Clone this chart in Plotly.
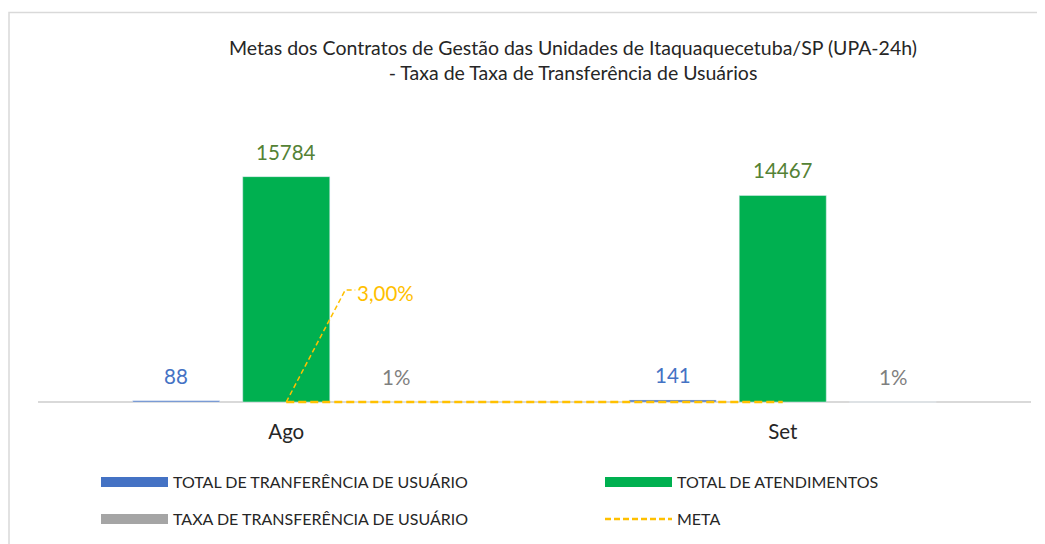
import plotly.graph_objects as go

# data
meses = ["Ago", "Set"]
total_transferencia = [88, 141]
total_atendimentos = [15784, 14467]
taxa_transferencia = [0.0056, 0.0097]
meta = [0.03, 0.03]

COLORS = {
    'blue': '#4472C4',
    'green': '#00B050',
    'gray': '#A5A5A5',
    'meta': '#FFC000',
    'text': '#262626',
}
FONT = 'Lato, Carlito, Calibri, sans-serif'
BARGAP = 0.335
BARGROUPGAP = 0.209
OFF = 8  # page body margin shifts the figure by 8px
Y_MAX = 18000
Y_PAD = 210  # a little room under zero so the META line is not clipped
PAD_PX = 3

series = [
    (total_transferencia, COLORS['blue'], '#4472C4', [f"{v}" for v in total_transferencia]),
    (total_atendimentos, COLORS['green'], '#548235', [f"{v}" for v in total_atendimentos]),
    (taxa_transferencia, COLORS['gray'], '#7F7F7F', [f"{v:.0%}" for v in taxa_transferencia]),
]

fig = go.Figure()

slot = (1 - BARGAP) / len(series)
for k, (vals, color, label_color, labels) in enumerate(series):
    fig.add_trace(go.Bar(
        x=meses, y=vals,
        marker_color=color,
        showlegend=False,
        hoverinfo='x+y',
    ))
    # data labels above the bars
    for i, (v, lab) in enumerate(zip(vals, labels)):
        fig.add_annotation(
            x=i + (k - 1) * slot, y=v, text=lab,
            showarrow=False, yanchor='bottom', yshift=11,
            font=dict(size=20.5, color=label_color),
        )

fig.add_trace(go.Scatter(
    x=meses, y=meta,
    mode='lines',
    line=dict(color=COLORS['meta'], width=2.5, dash='8px,4px'),
    cliponaxis=False,
    showlegend=False,
))

# legend-only entries (wide rectangles like the original), 2x2 grid
legend_items = [
    ("TOTAL DE TRANFERÊNCIA DE USUÁRIO", COLORS['blue'], 'solid', 10),
    ("TOTAL DE ATENDIMENTOS", COLORS['green'], 'solid', 10),
    ("TAXA DE TRANSFERÊNCIA DE USUÁRIO", COLORS['gray'], 'solid', 10),
    ("META", COLORS['meta'], '6px,3px', 2.5),
]
legend_cols = [101, 605]
legend_rows = [482, 519]
legends = {}
for n, (name, color, dash, w) in enumerate(legend_items):
    key = 'legend' if n == 0 else f'legend{n + 1}'
    fig.add_trace(go.Scatter(
        x=[None], y=[None], mode='lines', name=name, legend=key,
        line=dict(color=color, width=w, dash=dash),
    ))
    legends[key] = dict(
        orientation='h', xref='container', yref='container',
        x=(legend_cols[n % 2] - OFF - 5) / 1045, xanchor='left',
        y=1 - (legend_rows[n // 2] - OFF) / 544, yanchor='middle',
        itemwidth=67,
        font=dict(size=16, color=COLORS['text']),
        bgcolor='rgba(0,0,0,0)',
    )

# meta data label with dashed leader line
fig.add_shape(
    type='path', xref='x', yref='y',
    xsizemode='pixel', ysizemode='pixel',
    xanchor=0, yanchor=meta[0],
    path='M0,0 L59,112 L69,112',
    line=dict(color=COLORS['meta'], width=1.5, dash='5px,3px'),
)
fig.add_annotation(
    x=meses[0], y=meta[0], text=f"{meta[0]*100:.2f}%".replace('.', ','),
    showarrow=False, xanchor='left', yanchor='middle',
    xshift=69, yshift=109,
    font=dict(size=20.5, color=COLORS['meta']),
)

# chart border
fig.add_shape(
    type='rect', xref='paper', yref='paper',
    x0=-0.0292, x1=1.05, y0=-0.7, y1=1.51,
    line=dict(color='#D9D9D9', width=1.5), fillcolor='rgba(0,0,0,0)',
    layer='below',
)

fig.update_layout(
    width=1045, height=544,
    title=dict(
        text="Metas dos Contratos de Gestão das Unidades de Itaquaquecetuba/SP (UPA-24h)<br>- Taxa de Taxa de Transferência de Usuários",
        font=dict(size=19.5, color=COLORS['text'], family=FONT),
        x=(573 - OFF) / 1045, xref='container', xanchor='center',
        y=1 - (55 - OFF) / 544, yref='container', yanchor='middle',
    ),
    font=dict(family=FONT, color=COLORS['text']),
    barmode='group',
    bargap=BARGAP,
    bargroupgap=BARGROUPGAP,
    xaxis=dict(
        showline=False, showgrid=False, ticks='',
        ticklabelstandoff=12,
        tickfont=dict(size=20.5, color=COLORS['text']),
    ),
    yaxis=dict(
        range=[-Y_PAD, Y_MAX], showgrid=False, showticklabels=False,
        ticks='', showline=False, layer='below traces',
        zeroline=True, zerolinecolor='#D9D9D9', zerolinewidth=1.5,
    ),
    plot_bgcolor='white', paper_bgcolor='white',
    margin=dict(l=38 - OFF, r=1045 - 1031 + OFF, t=145 - OFF,
                b=544 - 402 + OFF - PAD_PX),
    **legends,
)

fig.write_html("out.html")
